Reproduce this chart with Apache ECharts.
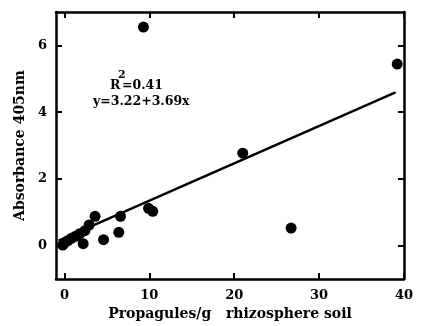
<!DOCTYPE html>
<html>
<head>
<meta charset="utf-8">
<script src="https://cdn.jsdelivr.net/npm/echarts@6/dist/echarts.min.js"></script>
<style>html,body{margin:0;padding:0;background:#fff;}#c{width:422px;height:326px;}</style>
</head>
<body>
<div id="c"></div>
<script>
// Data
var pointsX = [9.3, 39.2, 21.0, 26.7, 9.9, 10.4, 6.6, 6.4, 4.6, 3.6, 2.2, 2.9, 2.4, 1.8, 1.3, 0.8, 0.4, 0.0, -0.2];
var pointsY = [6.55, 5.44, 2.77, 0.53, 1.12, 1.03, 0.88, 0.40, 0.18, 0.88, 0.06, 0.62, 0.45, 0.36, 0.28, 0.22, 0.15, 0.08, 0.02];
var fitX = [-0.7, 39.0];
var fitY = [0.15, 4.59];
var xTicks = [0, 10, 20, 30, 40];
var yTicks = [0, 2, 4, 6];
var xTitle = 'Propagules/g   rhizosphere soil';
var yTitle = 'Absorbance 405nm';
var annR = 'R';
var annSup = '2';
var annR2 = '=0.41';
var annEq = 'y=3.22+3.69x';

var pts = pointsX.map(function (x, i) { return [x, pointsY[i]]; });
var fit = fitX.map(function (x, i) { return [x, fitY[i]]; });

var font = 'DejaVu Serif';
var axisCommon = {
  axisLine: { show: true, onZero: false, lineStyle: { color: '#000', width: 2.5 } },
  splitLine: { show: false }
};
var tickStyle = { color: '#000', width: 2 };
var chart = echarts.init(document.getElementById('c'));
chart.setOption({
  animation: false,
  backgroundColor: '#fff',
  grid: { left: 56, right: 18, top: 12, bottom: 41 },
  xAxis: [
    Object.assign({
      type: 'value', min: -1, max: 40, position: 'bottom',
      name: xTitle, nameLocation: 'middle', nameGap: 26,
      nameTextStyle: { fontFamily: font, fontWeight: 'bold', fontSize: 14, color: '#000' },
      axisTick: { show: true, inside: true, length: 6, customValues: xTicks, lineStyle: tickStyle },
      axisLabel: { customValues: xTicks, fontFamily: font, fontWeight: 'bold', fontSize: 13, color: '#000', margin: 10 }
    }, axisCommon),
    Object.assign({
      type: 'value', min: -1, max: 40, position: 'top',
      axisTick: { show: true, inside: true, length: 6, customValues: xTicks, lineStyle: tickStyle },
      axisLabel: { show: false }
    }, axisCommon)
  ],
  yAxis: [
    Object.assign({
      type: 'value', min: -1, max: 7, position: 'left',
      name: yTitle, nameLocation: 'middle', nameGap: 22, nameRotate: 90,
      nameTextStyle: { fontFamily: font, fontWeight: 'bold', fontSize: 14, color: '#000' },
      axisTick: { show: true, inside: true, length: 6, customValues: yTicks, lineStyle: tickStyle },
      axisLabel: { customValues: yTicks, fontFamily: font, fontWeight: 'bold', fontSize: 13, color: '#000', margin: 9 }
    }, axisCommon),
    Object.assign({
      type: 'value', min: -1, max: 7, position: 'right',
      axisTick: { show: true, inside: true, length: 6, customValues: yTicks, lineStyle: tickStyle },
      axisLabel: { show: false }
    }, axisCommon)
  ],
  series: [
    {
      type: 'line', data: fit, showSymbol: false, symbol: 'none',
      lineStyle: { color: '#000', width: 2.5 }, silent: true
    },
    {
      type: 'scatter', data: pts, symbol: 'circle', symbolSize: 11,
      itemStyle: { color: '#000', opacity: 1 }
    }
  ],
  graphic: [
    { type: 'text', left: 110, top: 79, style: { text: annR, fontFamily: font, fontWeight: 'bold', fontSize: 12.5, fill: '#000' } },
    { type: 'text', left: 118, top: 70, style: { text: annSup, fontFamily: font, fontWeight: 'bold', fontSize: 11, fill: '#000' } },
    { type: 'text', left: 122, top: 79, style: { text: annR2, fontFamily: font, fontWeight: 'bold', fontSize: 12.5, fill: '#000' } },
    { type: 'text', left: 93, top: 95, style: { text: annEq, fontFamily: font, fontWeight: 'bold', fontSize: 12.5, fill: '#000' } }
  ]
});
</script>
</body>
</html>
